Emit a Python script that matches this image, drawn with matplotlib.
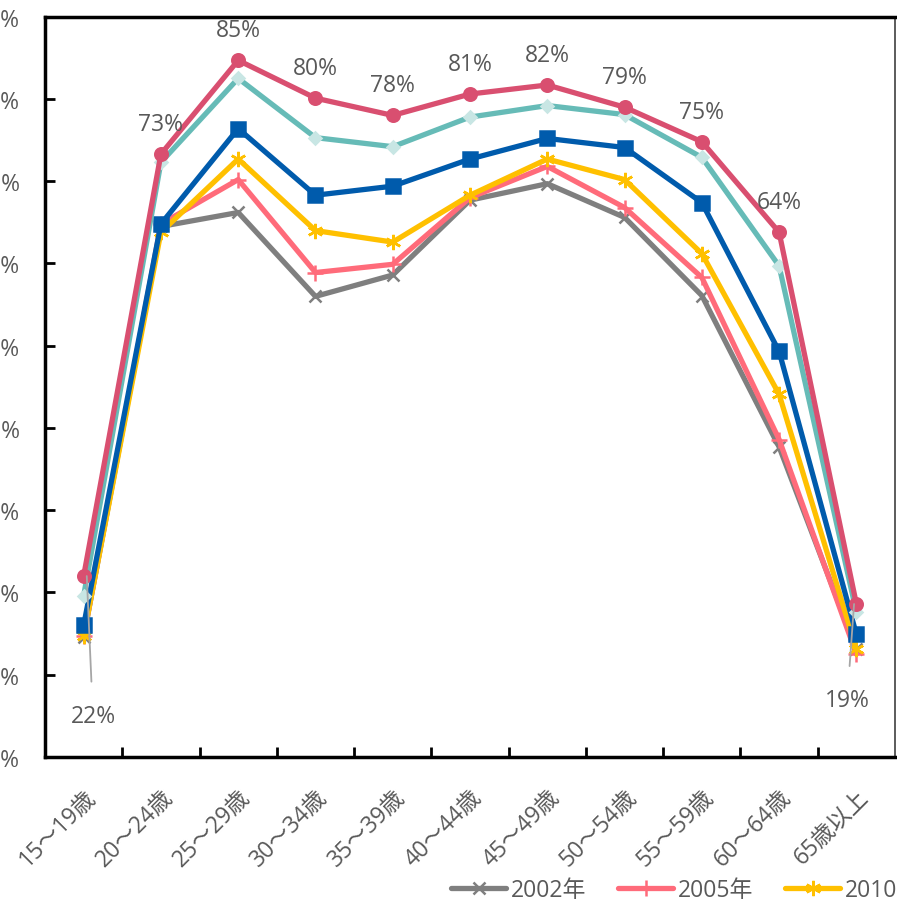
import matplotlib.pyplot as plt
from matplotlib.ticker import FixedLocator
from matplotlib.transforms import ScaledTranslation

plt.rcParams['font.family'] = ['Open Sans', 'Noto Sans CJK JP', 'DejaVu Sans']

ages = ['15～19歳', '20～24歳', '25～29歳', '30～34歳', '35～39歳', '40～44歳',
        '45～49歳', '50～54歳', '55～59歳', '60～64歳', '65歳以上']
years = ['2002年', '2005年', '2010年', '2015年', '2020年', '2023年']

y2002 = [14.6, 64.5, 66.2, 56.0, 58.6, 67.7, 69.7, 65.6, 56.1, 37.7, 13.1]
y2005 = [14.7, 64.8, 70.2, 58.9, 59.9, 68.0, 71.8, 66.8, 58.3, 38.6, 12.5]
y2010 = [14.7, 63.8, 72.7, 64.0, 62.6, 68.3, 72.7, 70.2, 61.2, 44.1, 13.1]
y2015 = [16.0, 64.8, 76.4, 68.3, 69.4, 72.7, 75.2, 74.1, 67.4, 49.3, 14.9]
y2020 = [19.6, 72.3, 82.5, 75.3, 74.2, 77.8, 79.2, 78.1, 72.9, 59.7, 17.6]
y2023 = [22.0, 73.3, 84.7, 80.1, 78.0, 80.6, 81.7, 79.0, 74.8, 63.8, 18.6]

series = [y2002, y2005, y2010, y2015, y2020, y2023]
colors = ['#7F7F7F', '#FF6B7A', '#FFC000', '#005BAC', '#66BBB7', '#D94F70']
markers = ['x', '+', (6, 2, 0), 's', 'D', 'o']
msizes = [9, 11, 11, 10, 6, 9]
mfaces = ['#7F7F7F', '#FF6B7A', '#FFC000', '#005BAC', '#C8E6E4', '#D94F70']

txt = '#595959'
fs = 16.5

fig = plt.figure(figsize=(8.97, 9.04), dpi=100)
ax = fig.add_axes([0.0502, 0.1615, 0.9476, 0.8189])

x = list(range(len(ages)))
for vals, c, m, ms, mf, lab in zip(series, colors, markers, msizes, mfaces, years):
    ax.plot(x, vals, color=c, lw=3.8, marker=m, ms=ms, mfc=mf, mec=mf,
            mew=1.8, label=lab, solid_joinstyle='round', solid_capstyle='round')

# percentage labels for the latest year
for i, v in enumerate(y2023):
    if i == 0:
        ax.annotate(f'{v:.0f}%', xy=(i + 0.04, v), xytext=(i + 0.12, v - 17.0),
                    ha='center', va='center', fontsize=fs, color=txt,
                    arrowprops=dict(arrowstyle='-', color='#A6A6A6', lw=1.3,
                                    shrinkA=14, shrinkB=0))
    elif i == len(y2023) - 1:
        ax.annotate(f'{v:.0f}%', xy=(i - 0.03, v), xytext=(i - 0.12, v - 11.7),
                    ha='center', va='center', fontsize=fs, color=txt,
                    arrowprops=dict(arrowstyle='-', color='#A6A6A6', lw=1.3,
                                    shrinkA=14, shrinkB=0))
    else:
        ax.annotate(f'{v:.0f}%', xy=(i, v), xytext=(0, 13), textcoords='offset points',
                    ha='center', va='bottom', fontsize=fs, color=txt)

ax.set_xlim(-0.5, len(ages) - 0.5)
ax.set_ylim(0, 90)
ax.set_yticks(range(0, 91, 10))
ax.set_yticklabels([f'{t}%' for t in range(0, 91, 10)])
ax.set_xticks(x)
ax.set_xticklabels(ages, rotation=45, ha='right', rotation_mode='anchor')
ax.xaxis.set_minor_locator(FixedLocator([i + 0.5 for i in range(len(ages) - 1)]))

shift = ScaledTranslation(-5 / 72, 0, fig.dpi_scale_trans)
for lbl in ax.get_xticklabels():
    lbl.set_transform(lbl.get_transform() + shift)

ax.tick_params(axis='y', direction='in', length=7, width=2, pad=18,
               labelsize=fs, labelcolor=txt)
ax.tick_params(axis='x', which='major', length=0, pad=20, labelsize=fs, labelcolor=txt)
ax.tick_params(axis='x', which='minor', direction='in', length=7, width=2)

for side in ['left', 'bottom', 'top']:
    ax.spines[side].set_linewidth(2.5)
    ax.spines[side].set_color('black')
ax.spines['right'].set_linewidth(1.2)
ax.spines['right'].set_color('#404040')

fig.legend(loc='center left', bbox_to_anchor=(0.503, 0.0145), ncol=6, frameon=False,
           fontsize=fs, labelcolor=txt, handlelength=2.4, handletextpad=0.2,
           columnspacing=1.4, borderaxespad=0, borderpad=0)

fig.savefig('out.png', dpi=100)
